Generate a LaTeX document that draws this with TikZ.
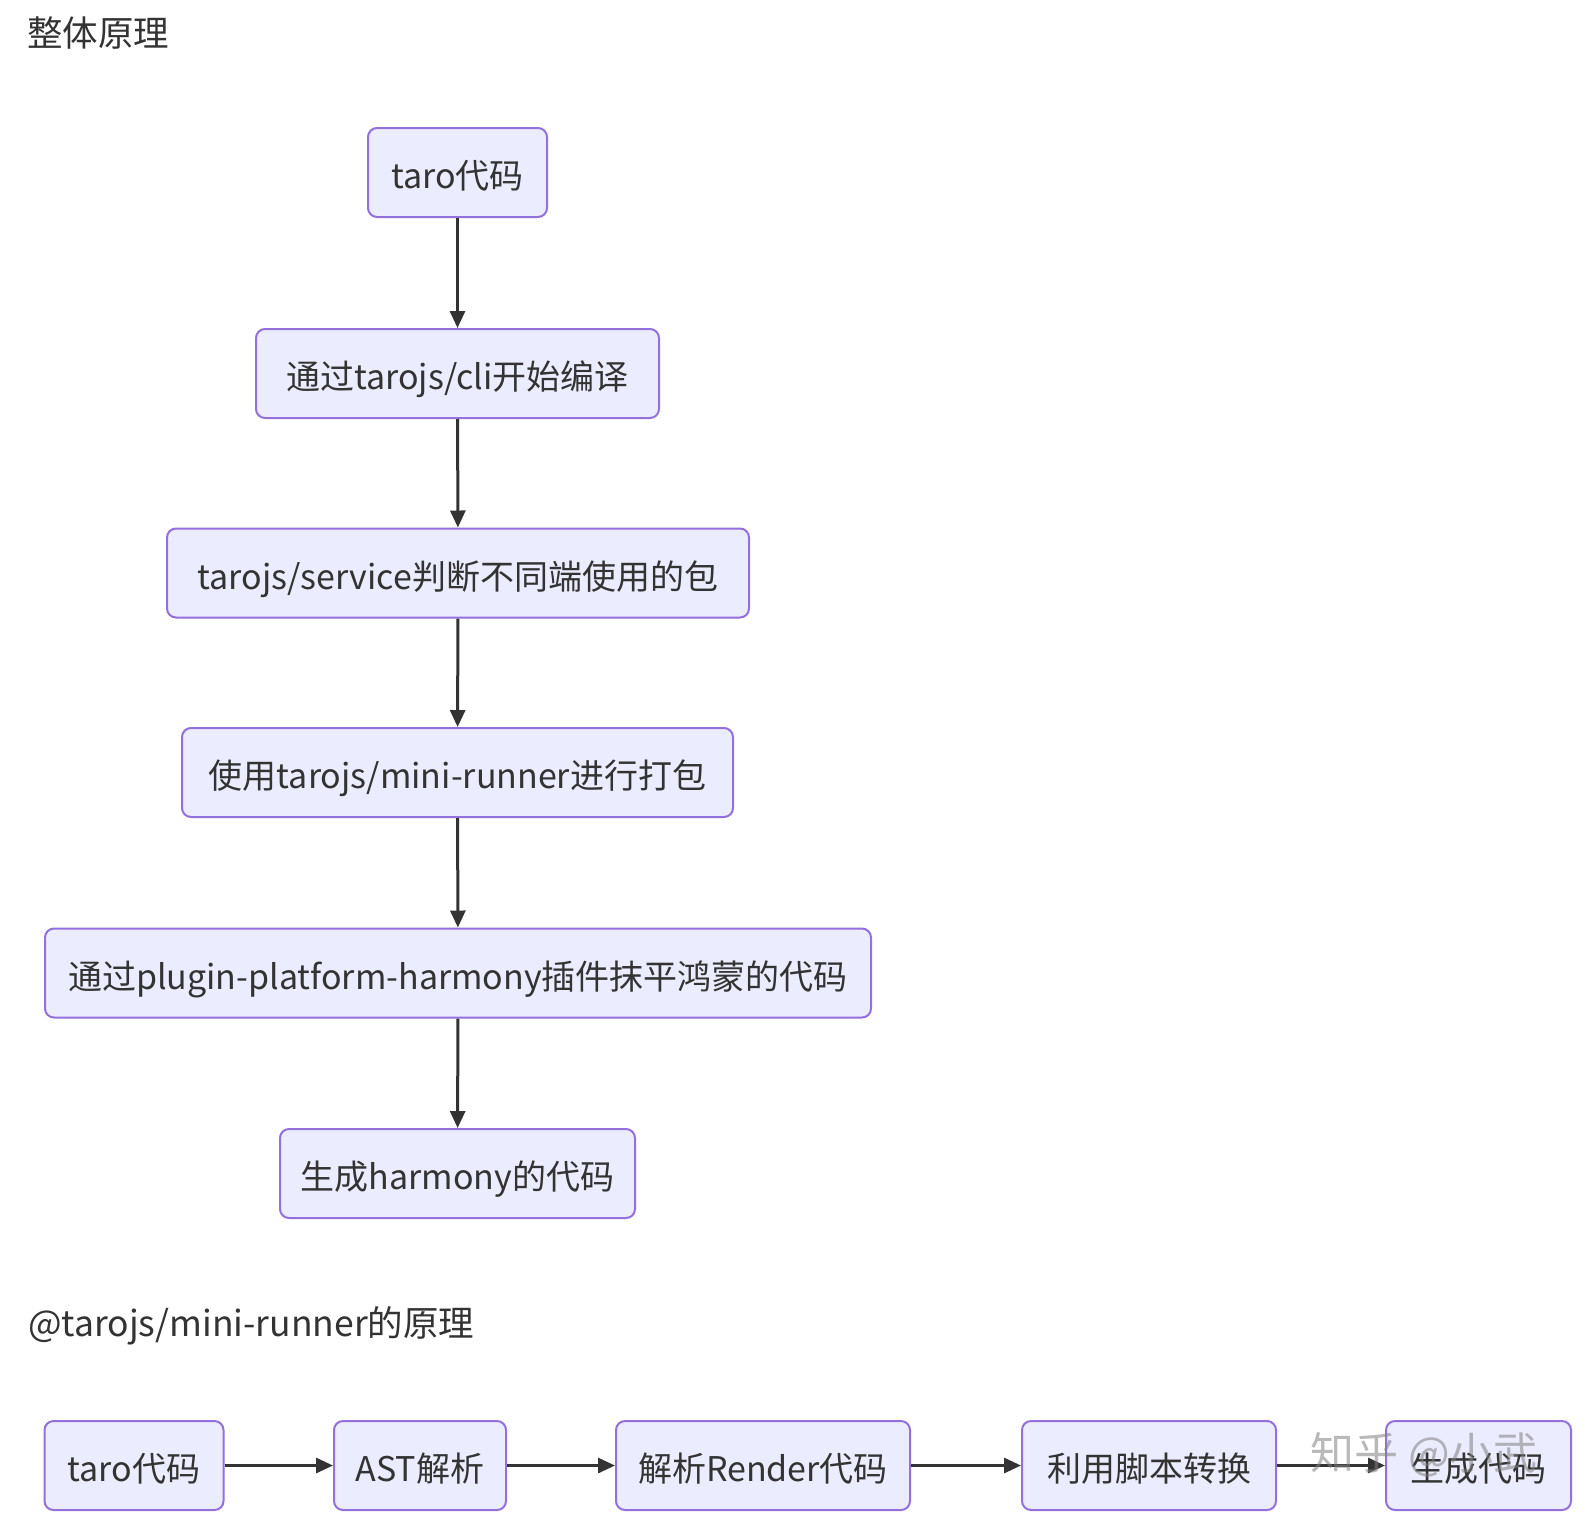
\documentclass[tikz,border=0pt]{standalone}
\usepackage{fontspec}
\setmainfont{Noto Sans CJK SC}
\usetikzlibrary{arrows.meta}
\definecolor{boxfill}{HTML}{ECECFF}
\definecolor{boxline}{HTML}{9370DB}
\definecolor{ink}{HTML}{333333}
\begin{document}
\begin{tikzpicture}[x=1pt,y=-1pt,
  flowbox/.style={draw=boxline, fill=boxfill, line width=2pt, rounded corners=9pt,
    minimum height=89pt, inner sep=0pt, text=ink,
    text height=33pt, text depth=1pt,
    font=\fontsize{34}{40}\selectfont},
  flowarrow/.style={draw=ink, line width=3pt,
    -{Triangle[length=17pt,width=15pt]}},
  heading/.style={anchor=west, text=ink, inner sep=0pt,
    font=\fontsize{35.5}{42}\selectfont}]
\useasboundingbox[fill=white] (0,0) rectangle (1586,1520);

\node[heading] (t1) at (27,33) {整体原理};
\node[heading] (t2) at (28,1326) {@tarojs/mini-runner的原理};

\node[flowbox, minimum width=179pt] (n1) at (457.5,172.5) {taro代码};
\node[flowbox, minimum width=403pt] (n2) at (457.5,373.5) {通过tarojs/cli开始编译};
\node[flowbox, minimum width=582pt] (n3) at (458,573) {tarojs/service判断不同端使用的包};
\node[flowbox, minimum width=551pt] (n4) at (457.5,772.5) {使用tarojs/mini-runner进行打包};
\node[flowbox, minimum width=826pt] (n5) at (458,973) {通过plugin-platform-harmony插件抹平鸿蒙的代码};
\node[flowbox, minimum width=355pt] (n6) at (457.5,1173.5) {生成harmony的代码};

\draw[flowarrow] (n1) -- (n2);
\draw[flowarrow] (n2) -- (n3);
\draw[flowarrow] (n3) -- (n4);
\draw[flowarrow] (n4) -- (n5);
\draw[flowarrow] (n5) -- (n6);

\node[flowbox, minimum width=179pt] (m1) at (134,1465.5) {taro代码};
\node[flowbox, minimum width=172pt] (m2) at (420,1465.5) {AST解析};
\node[flowbox, minimum width=294pt] (m3) at (763,1465.5) {解析Render代码};
\node[flowbox, minimum width=254pt] (m4) at (1149,1465.5) {利用脚本转换};
\node[flowbox, minimum width=185pt] (m5) at (1478.5,1465.5) {生成代码};

\draw[flowarrow] (m1) -- (m2);
\draw[flowarrow] (m2) -- (m3);
\draw[flowarrow] (m3) -- (m4);
\draw[flowarrow] (m4) -- (m5);

\node[text=gray, opacity=0.55, inner sep=0pt, font=\fontsize{44}{50}\selectfont] (wm) at (1424,1455) {知乎 @小武};
\end{tikzpicture}
\end{document}
